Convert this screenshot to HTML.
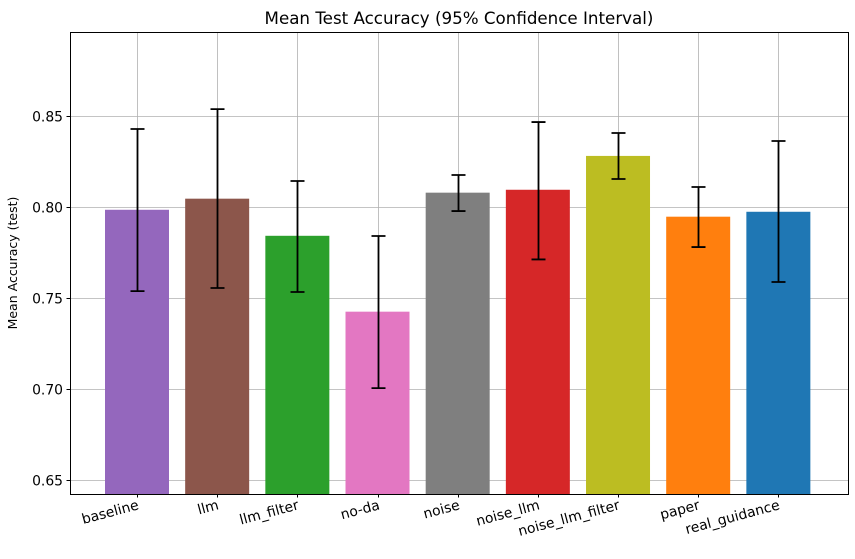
<!DOCTYPE html>
<html><head><meta charset="utf-8"><style>
body{margin:0;background:#fff;width:855px;height:554px;overflow:hidden}
svg text{font-family:"DejaVu Sans","Liberation Sans",sans-serif;fill:#000}
</style></head><body>
<svg id="chart" width="855" height="554" xmlns="http://www.w3.org/2000/svg">
<text x="459" y="24" font-size="16.7" text-anchor="middle">Mean Test Accuracy (95% Confidence Interval)</text>
<text transform="translate(17,263) rotate(-90)" font-size="12.5" text-anchor="middle">Mean Accuracy (test)</text>
<g id="grid"></g><g id="bars"></g><g id="errs"></g><g id="ticks"></g>
<rect x="70.5" y="32.5" width="778" height="462" fill="none" stroke="#000" stroke-width="1"/>
</svg>
<script>
const categories=["baseline","llm","llm_filter","no-da","noise","noise_llm","noise_llm_filter","paper","real_guidance"];
const means=[0.7985,0.8046,0.7842,0.7425,0.8079,0.8095,0.8281,0.7947,0.7974];
const lower=[0.7538,0.7555,0.7533,0.7005,0.7978,0.7712,0.8154,0.7780,0.7588];
const upper=[0.8429,0.8538,0.8143,0.7841,0.8176,0.8467,0.8407,0.8110,0.8363];
const colors=["#9467bd","#8c564b","#2ca02c","#e377c2","#7f7f7f","#d62728","#bcbd22","#ff7f0e","#1f77b4"];
const yTicks=[0.65,0.70,0.75,0.80,0.85];
const yTickLabels=["0.65","0.70","0.75","0.80","0.85"];
const NS="http://www.w3.org/2000/svg";
const yMin=0.6423,yMax=0.8962,plotTop=32,plotBottom=494,plotLeft=70,plotRight=848;
function yPos(v){return plotBottom-(v-yMin)/(yMax-yMin)*(plotBottom-plotTop);}
function xPos(i){return 137+i*80.17;}
function mk(tag,attrs,parent){const e=document.createElementNS(NS,tag);for(const k in attrs)e.setAttribute(k,attrs[k]);document.getElementById(parent).appendChild(e);return e;}
yTicks.forEach((t,i)=>{
 const yy=Math.round(yPos(t))+0.5;
 const g=mk('line',{x1:plotLeft,x2:plotRight,y1:yy,y2:yy,stroke:'#b0b0b0','stroke-width':0.8},'grid');
 
 
 const tk=mk('line',{x1:plotLeft-3.5,x2:plotLeft,y1:yy,y2:yy,stroke:'#000'},'ticks');
 
 
 const tl=mk('text',{x:plotLeft-7,y:yy+5,'font-size':13.9,'text-anchor':'end'},'ticks');
 tl.textContent=yTickLabels[i];
 
 
});
categories.forEach((c,i)=>{
 const cx=Math.round(xPos(i))+0.5;
 const g=mk('line',{x1:cx,x2:cx,y1:plotTop,y2:plotBottom,stroke:'#b0b0b0','stroke-width':0.8},'grid');
 
 
 const b=mk('rect',{x:xPos(i)-32,y:yPos(means[i]),width:64,height:plotBottom-yPos(means[i]),fill:colors[i]},'bars');
 
 
 const e=mk('path',{d:`M${cx} ${yPos(upper[i])}V${yPos(lower[i])}M${cx-7} ${yPos(upper[i])}H${cx+7}M${cx-7} ${yPos(lower[i])}H${cx+7}`,stroke:'#000','stroke-width':1.8,fill:'none'},'errs');
 
 
 const tk=mk('line',{x1:cx,x2:cx,y1:plotBottom,y2:plotBottom+3.5,stroke:'#000'},'ticks');
 
 
 const tl=mk('text',{transform:`translate(${cx+2},${plotBottom+15}) rotate(-15)`,'font-size':13.9,'text-anchor':'end'},'ticks');
 tl.textContent=c;
 
 
});
</script>
</body></html>
